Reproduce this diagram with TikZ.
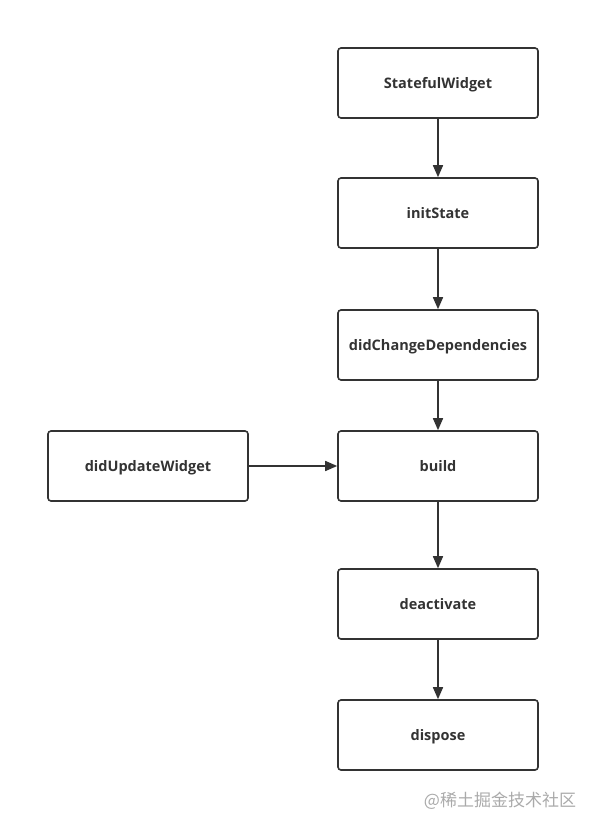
\documentclass[tikz,border=0pt]{standalone}
\usepackage{fontspec}
\setmainfont{Open Sans}
\newfontfamily\cjk{Noto Sans CJK SC}
\usepackage{xcolor}
\usetikzlibrary{arrows.meta}
\definecolor{linegray}{HTML}{333333}
\definecolor{markgray}{HTML}{AAAAAA}

\begin{document}
\begin{tikzpicture}[x=1pt,y=1pt,
        stage/.style={draw=linegray, line width=1.6pt, rounded corners=3pt,
            minimum width=200pt, minimum height=70pt, inner sep=0pt,
            text height=10.5pt, text depth=0pt,
            text=linegray, font=\fontsize{14.5}{16}\selectfont\bfseries},
        flow/.style={draw=linegray, line width=1.6pt,
            -{Triangle[length=12pt,width=10pt]}}]
        \useasboundingbox (0,0) rectangle (600,-832);

        \node[stage] (sw) at (438,-83) {StatefulWidget};
        \node[stage] (init) at (438,-213) {initState};
        \node[stage] (dcd) at (438,-345) {didChangeDependencies};
        \node[stage] (build) at (438,-466) {build};
        \node[stage] (deact) at (438,-604) {deactivate};
        \node[stage] (disp) at (438,-735) {dispose};

        \node[stage] (duw) at (148,-466) {didUpdateWidget};

        \draw[flow] (sw) -- (init);
        \draw[flow] (init) -- (dcd);
        \draw[flow] (dcd) -- (build);
        \draw[flow] (duw) -- (build);
        \draw[flow] (build) -- (deact);
        \draw[flow] (deact) -- (disp);

        \node[text=markgray, font=\cjk\fontsize{17}{19}\selectfont] (mark) at (500,-801) {@稀土掘金技术社区};
    \end{tikzpicture}
\end{document}
